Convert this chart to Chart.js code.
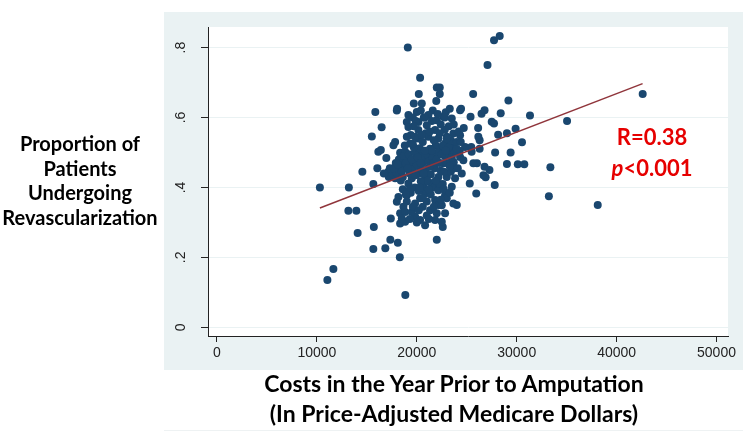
<!DOCTYPE html>
<html>
<head>
<meta charset="utf-8">
<script src="https://cdn.jsdelivr.net/npm/chart.js@4"></script>
<style>
  html, body { margin: 0; padding: 0; background: #fff; }
  #wrap { position: relative; width: 754px; height: 441px; overflow: hidden; }
  canvas { position: absolute; left: 0; top: 0; }
  .lbl { position: absolute; font-family: Lato, "Open Sans", sans-serif; font-weight: bold; color: #000; text-align: center; }
  #ylab { left: 0; top: 131px; width: 160px; font-size: 20px; line-height: 24.5px; }
  #xlab { left: 164px; top: 368px; width: 580px; font-size: 23px; line-height: 30px; }
  #stat { left: 600px; top: 121px; width: 104px; font-size: 22px; line-height: 31px; color: #e60000; }
</style>
</head>
<body>
<div id="wrap">
  <canvas id="grafico" width="754" height="441"></canvas>
  <div class="lbl" id="ylab">Proportion of<br>Patients<br>Undergoing<br>Revascularization</div>
  <div class="lbl" id="xlab">Costs in the Year Prior to Amputation<br>(In Price-Adjusted Medicare Dollars)</div>
  <div class="lbl" id="stat">R=0.38<br><i>p</i>&lt;0.001</div>
</div>
<script>
// costes por región (dólares) y proporción revascularizada
const costX = [
  10300, 11050, 11650, 13200, 13150, 13950, 14080, 14550, 15500, 15650,
  15650, 15700, 15850, 16050, 16150, 16400, 16480, 16850, 16950, 17350,
  17400, 18030, 18100, 18300, 18850, 19100, 19700, 20200, 20330, 22000,
  22300, 22300, 21950, 22000, 22600, 24000, 24430, 25300, 25640, 25950,
  27080, 27730, 28300, 27800, 27840, 28140, 28400, 29170, 29020, 29020,
  29390, 29890, 30110, 30530, 30760, 31330, 33220, 33370, 35040, 38110,
  42610,
  26780, 27270, 26670, 26890, 26020, 26290, 26290, 26140, 26780, 26480,
  27500, 27730, 25380, 25490, 25450, 26160, 25660, 24330, 23500, 22660,
  23000, 23660, 24330, 22830, 23660, 24830, 23330, 24330, 22660, 23660,
  24660, 23000, 23830,
  18000, 19160, 20000, 21160, 22000, 19000, 20160, 21000, 19160, 20160,
  21830, 19330, 20160, 21160, 22160, 19830, 17830, 17660, 18330, 17160,
  17500, 18160, 18830, 19000, 19830, 20500, 21330, 22500, 18830, 20330,
  21500, 17830, 19500, 20830, 22160, 19160, 21500,
  18160, 19000, 18000, 18660, 18330, 18830, 18330, 18830, 19830, 20330,
  20830, 20660, 21700, 21160, 22160, 22830, 21830, 22500, 23000, 21330,
  22000, 22830, 19830, 20330, 20830, 21830, 22500, 19500, 23500, 23660,
  18500,
  17200, 17600, 18000, 18400, 18600, 18200, 18700, 19200, 19400, 19600,
  19300, 19800, 20000, 20200, 20600, 20700, 20900, 21100, 21200, 21400,
  21600, 21800, 21900, 22100, 22300, 22400, 22600, 22800, 23000, 23200,
  23400, 23800, 24000, 24200, 23200, 22800, 22400, 21500, 20700, 19600,
  20400, 21600, 22900, 23300, 19400, 20600, 20900, 21700, 18800, 19000,
  20300, 21500, 23700, 24100, 24500, 23400, 22600, 21000, 20400, 19800,
  20200, 19400, 18600, 18400, 19000, 19600, 20600, 21000, 21400, 21000,
  20000, 22200, 22300, 22700, 23300, 20500, 19900, 22800, 23700, 24700,
  24300, 17900, 17300, 16700,
  17700, 18100, 18500, 18900, 19100, 19500, 19700, 20100, 20400, 20800,
  21300, 21700, 22000, 22500, 22900, 23500, 24000, 24400, 23000, 22300,
  21300, 20500, 19600, 18600, 19900, 20700, 21900, 22700, 23300, 20300,
  21200, 19300, 18900, 20600, 21700, 20200, 21200, 19300, 22400, 20800,
  22100, 19700
];
const propY = [
  0.400, 0.135, 0.167, 0.400, 0.333, 0.333, 0.270, 0.445, 0.546, 0.410,
  0.224, 0.287, 0.616, 0.455, 0.502, 0.507, 0.572, 0.226, 0.484, 0.250,
  0.311, 0.625, 0.242, 0.200, 0.092, 0.800, 0.640, 0.667, 0.714, 0.686,
  0.686, 0.667, 0.647, 0.250, 0.287, 0.350, 0.625, 0.411, 0.667, 0.383,
  0.750, 0.821, 0.833, 0.407, 0.500, 0.551, 0.612, 0.649, 0.555, 0.467,
  0.500, 0.568, 0.466, 0.529, 0.466, 0.606, 0.375, 0.458, 0.590, 0.350,
  0.667,
  0.459, 0.450, 0.435, 0.429, 0.469, 0.511, 0.535, 0.570, 0.621, 0.611,
  0.588, 0.583, 0.602, 0.502, 0.516, 0.545, 0.469, 0.621, 0.597, 0.602,
  0.545, 0.554, 0.549, 0.526, 0.516, 0.516, 0.497, 0.487, 0.469, 0.454,
  0.478, 0.430, 0.426,
  0.620, 0.607, 0.616, 0.607, 0.592, 0.587, 0.587, 0.578, 0.573, 0.564,
  0.564, 0.526, 0.540, 0.545, 0.540, 0.545, 0.530, 0.521, 0.499, 0.445,
  0.449, 0.454, 0.502, 0.478, 0.478, 0.497, 0.511, 0.507, 0.454, 0.454,
  0.464, 0.426, 0.426, 0.430, 0.430, 0.411, 0.411,
  0.373, 0.378, 0.359, 0.345, 0.326, 0.330, 0.297, 0.302, 0.354, 0.369,
  0.383, 0.402, 0.400, 0.416, 0.392, 0.378, 0.364, 0.349, 0.369, 0.335,
  0.326, 0.326, 0.316, 0.307, 0.292, 0.307, 0.302, 0.330, 0.402, 0.354,
  0.311,
  0.430, 0.438, 0.440, 0.462, 0.470, 0.480, 0.490, 0.495, 0.465, 0.452,
  0.440, 0.500, 0.465, 0.440, 0.470, 0.485, 0.450, 0.492, 0.475, 0.438,
  0.485, 0.455, 0.520, 0.500, 0.470, 0.448, 0.520, 0.490, 0.470, 0.515,
  0.535, 0.500, 0.530, 0.560, 0.575, 0.565, 0.580, 0.590, 0.600, 0.600,
  0.620, 0.620, 0.615, 0.625, 0.550, 0.530, 0.555, 0.535, 0.520, 0.545,
  0.512, 0.505, 0.472, 0.455, 0.440, 0.445, 0.410, 0.420, 0.418, 0.400,
  0.390, 0.385, 0.395, 0.420, 0.360, 0.345, 0.345, 0.360, 0.380, 0.320,
  0.300, 0.350, 0.410, 0.395, 0.385, 0.640, 0.590, 0.600, 0.580, 0.570,
  0.505, 0.470, 0.455, 0.440,
  0.455, 0.465, 0.445, 0.470, 0.455, 0.480, 0.515, 0.485, 0.470, 0.505,
  0.460, 0.470, 0.480, 0.495, 0.505, 0.485, 0.510, 0.530, 0.540, 0.555,
  0.560, 0.550, 0.525, 0.430, 0.435, 0.440, 0.420, 0.445, 0.460, 0.400,
  0.395, 0.395, 0.380, 0.370, 0.345, 0.335, 0.310, 0.310, 0.365, 0.600,
  0.610, 0.575
];

// recta ajustada (extremos)
const fitX = [10300, 42600];
const fitY = [0.341, 0.697];

const xTicks = [0, 10000, 20000, 30000, 40000, 50000];
const yTicks = [0, 0.2, 0.4, 0.6, 0.8];

const puntos = costX.map((x, i) => ({ x: x, y: propY[i] }));
const recta = fitX.map((x, i) => ({ x: x, y: fitY[i] }));

const fondo = {
  id: 'fondo',
  beforeDraw(chart) {
    const { ctx, chartArea } = chart;
    ctx.save();
    ctx.fillStyle = '#eaf2f3';
    ctx.fillRect(164, 12, 579, 358);
    ctx.fillStyle = '#ffffff';
    ctx.fillRect(chartArea.left, chartArea.top, chartArea.right - chartArea.left, chartArea.bottom - chartArea.top);
    ctx.fillStyle = '#eef2f3';
    ctx.fillRect(164, 430, 579, 1);
    ctx.restore();
  }
};

new Chart(document.getElementById('grafico'), {
  type: 'scatter',
  data: {
    datasets: [
      {
        type: 'line',
        label: 'Fitted values',
        data: recta,
        borderColor: '#90353b',
        borderWidth: 1.5,
        pointRadius: 0,
        fill: false
      },
      {
        label: 'Proportion',
        data: puntos,
        backgroundColor: '#1a476f',
        borderWidth: 0,
        pointRadius: 4
      }
    ]
  },
  options: {
    responsive: false,
    animation: false,
    devicePixelRatio: 1,
    layout: { padding: { left: 0, right: 26, top: 27, bottom: 71 } },
    plugins: {
      legend: { display: false },
      tooltip: { enabled: false }
    },
    scales: {
      x: {
        type: 'linear',
        min: -900,
        max: 51150,
        afterBuildTicks: s => { s.ticks = xTicks.map(v => ({ value: v })); },
        afterFit: s => { s.height = 34; },
        grid: { drawOnChartArea: false, tickLength: 6, tickColor: '#222' },
        border: { color: '#222', width: 1 },
        ticks: {
          color: '#222',
          padding: 3,
          maxRotation: 0,
          font: { family: '"Liberation Sans", Arial, sans-serif', size: 14 },
          callback: v => String(v)
        }
      },
      y: {
        type: 'linear',
        min: -0.025,
        max: 0.859,
        afterBuildTicks: s => { s.ticks = yTicks.map(v => ({ value: v })); },
        afterFit: s => { s.width = 208; },
        grid: { color: '#eaf2f3', tickColor: '#222', tickLength: 7 },
        border: { color: '#222', width: 1 },
        ticks: {
          color: '#222',
          padding: 14,
          minRotation: 90,
          maxRotation: 90,
          crossAlign: 'center',
          font: { family: '"Liberation Sans", Arial, sans-serif', size: 14 },
          callback: v => v === 0 ? '0' : String(Number(v.toFixed(1))).replace(/^0/, '')
        }
      }
    }
  },
  plugins: [fondo]
});
</script>
</body>
</html>
